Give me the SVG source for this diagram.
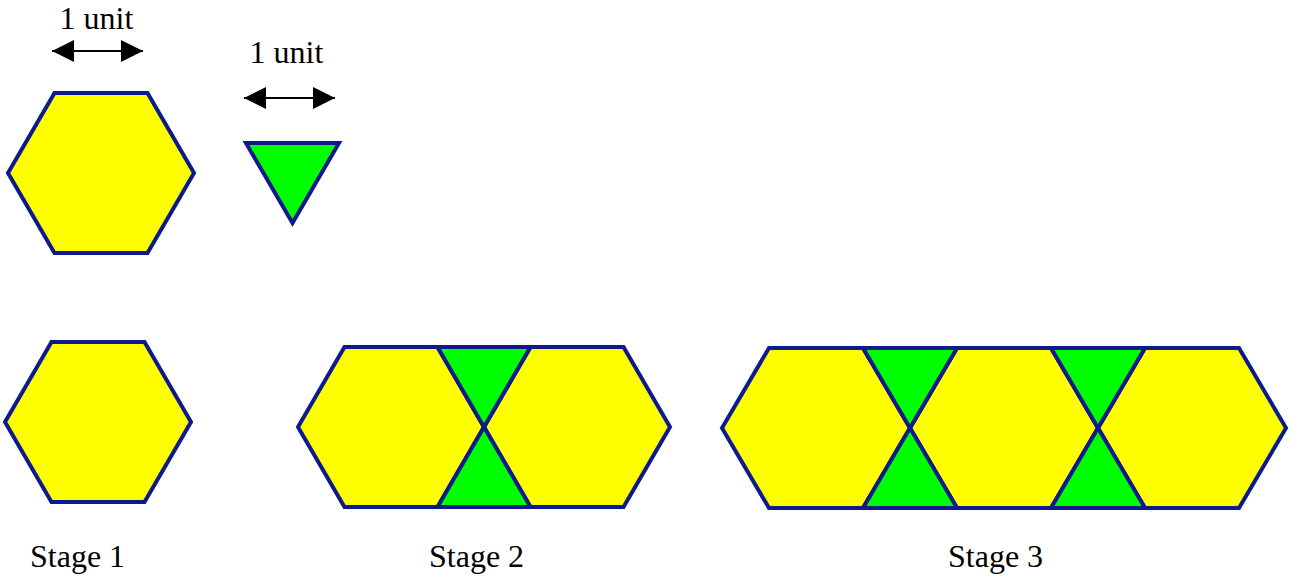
<svg xmlns="http://www.w3.org/2000/svg" width="1290" height="577" viewBox="0 0 1290 577">
<defs>
<style>
.hex{fill:#ffff00;stroke:#0c1a8e;stroke-width:4;stroke-linejoin:miter}
.tri{fill:#00ff00;stroke:#0c1a8e;stroke-width:4;stroke-linejoin:miter}
.lbl{font-family:"Liberation Serif","Times New Roman",serif;font-size:32px;fill:#000}
.arr{stroke:#000;stroke-width:2;fill:none}
</style>
<marker id="ah" markerUnits="userSpaceOnUse" markerWidth="22" markerHeight="22" viewBox="0 0 20 20" refX="20" refY="10" orient="auto-start-reverse">
<path d="M0,0 L20,10 L0,20 Z" fill="#000"/>
</marker>
</defs>
<rect width="1290" height="577" fill="#fff"/>
<g id="connectors">
<line class="arr" x1="52" y1="51" x2="143" y2="51" marker-start="url(#ah)" marker-end="url(#ah)"/>
<line class="arr" x1="244" y1="98" x2="335" y2="98" marker-start="url(#ah)" marker-end="url(#ah)"/>
</g>
<g id="label-unit-hex"><text class="lbl" x="59.5" y="29">1 unit</text></g>
<g id="label-unit-tri"><text class="lbl" x="249.5" y="63">1 unit</text></g>
<g id="hex-unit"><polygon class="hex" points="8,173 54.5,93 147.5,93 194,173 147.5,253 54.5,253"/></g>
<g id="tri-unit"><polygon class="tri" points="246,143 339,143 292.5,223"/></g>
<g id="stage1-hex"><polygon class="hex" points="5,422 51.5,342 144.5,342 191,422 144.5,502 51.5,502"/></g>
<g id="stage2">
<polygon class="hex" points="298,427 344.5,347 437.5,347 484,427 437.5,507 344.5,507"/>
<polygon class="hex" points="484,427 530.5,347 623.5,347 670,427 623.5,507 530.5,507"/>
<polygon class="tri" points="437.5,347 530.5,347 484,427"/>
<polygon class="tri" points="484,427 530.5,507 437.5,507"/>
</g>
<g id="stage3">
<polygon class="hex" points="722,428 769,348 863,348 910,428 863,508 769,508"/>
<polygon class="hex" points="910,428 957,348 1051,348 1098,428 1051,508 957,508"/>
<polygon class="hex" points="1098,428 1145,348 1239,348 1286,428 1239,508 1145,508"/>
<polygon class="tri" points="863,348 957,348 910,428"/>
<polygon class="tri" points="910,428 957,508 863,508"/>
<polygon class="tri" points="1051,348 1145,348 1098,428"/>
<polygon class="tri" points="1098,428 1145,508 1051,508"/>
</g>
<g id="label-stage1"><text class="lbl" x="30" y="567">Stage 1</text></g>
<g id="label-stage2"><text class="lbl" x="429" y="567">Stage 2</text></g>
<g id="label-stage3"><text class="lbl" x="948" y="567">Stage 3</text></g>
</svg>
